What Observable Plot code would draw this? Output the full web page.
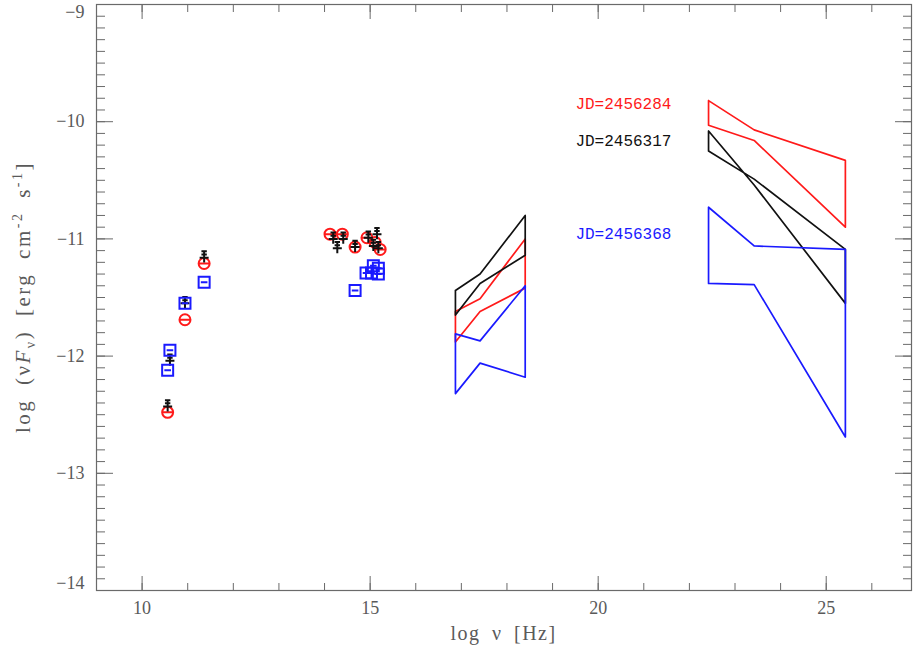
<!DOCTYPE html>
<html>
<head>
<meta charset="utf-8">
<script src="https://cdn.jsdelivr.net/npm/d3@7"></script>
<script src="https://cdn.jsdelivr.net/npm/@observablehq/plot@0.6"></script>
<style>
  html, body { margin: 0; padding: 0; background: #fff; }
  #chart svg { display: block; }
</style>
</head>
<body>
<div id="chart"></div>
<script>
// Observation epochs and their colours
const epochs = ["JD=2456284", "JD=2456317", "JD=2456368"];
const epochColors = ["#ff1a1a", "#111111", "#1a1aff"];

// Radio–optical photometry (log ν [Hz], log νFν)
const redNu   = [10.56, 10.94, 11.36, 14.12, 14.39, 14.67, 14.93, 15.11, 15.22];
const redF    = [-12.48, -11.69, -11.21, -10.96, -10.96, -11.07, -10.99, -11.03, -11.09];
const blackNu = [10.56, 10.61, 10.94, 11.36, 14.19, 14.28, 14.41, 14.67, 14.96, 15.07, 15.15, 15.18];
const blackF  = [-12.43, -12.04, -11.55, -11.16, -11.00, -11.08, -11.00, -11.07, -10.99, -11.06, -10.96, -11.08];
const blueNu  = [10.56, 10.61, 10.94, 11.36, 14.67, 14.91, 15.03, 15.07, 15.18, 15.18];
const blueF   = [-12.12, -11.95, -11.55, -11.37, -11.44, -11.29, -11.29, -11.23, -11.25, -11.30];

// X-ray bow-ties: nodes in log ν, two bounding lines per epoch
const xrayNu     = [16.87, 17.41, 18.40];
const xrayRedA   = [-11.62, -11.51, -11.00];
const xrayRedB   = [-11.88, -11.62, -11.42];
const xrayBlackA = [-11.44, -11.30, -10.80];
const xrayBlackB = [-11.65, -11.38, -11.14];
const xrayBlueA  = [-11.81, -11.87, -11.40];
const xrayBlueB  = [-12.32, -12.06, -12.18];

// Gamma-ray bow-ties
const gammaNu     = [22.42, 23.42, 25.42];
const gammaRedA   = [-9.82, -10.07, -10.33];
const gammaRedB   = [-10.03, -10.16, -10.90];
const gammaBlackA = [-10.08, -10.54, -11.55];
const gammaBlackB = [-10.25, -10.49, -11.09];
const gammaBlueA  = [-10.73, -11.06, -11.09];
const gammaBlueB  = [-11.38, -11.39, -12.69];

// Epoch label anchors
const labelNu = [19.5, 19.5, 19.5];
const labelF  = [-9.85, -10.16, -10.96];

// Axis ticks
const xMajor = [10, 15, 20, 25];
const xMinor = d3.range(9, 27, 1);
const yMajor = [-14, -13, -12, -11, -10, -9];
const yInner = [-13, -12, -11, -10];
const yMinor = d3.range(-140, -89, 1).map(v => v / 10);

const axisColor = "#6a6a6a";
const textColor = "#5a5a5a";
const serif = "'Liberation Serif', 'DejaVu Serif', serif";

const points = (nu, f) => nu.map((x, i) => ({x, y: f[i]}));

// closed outline: line A forward, line B backward
const bowtie = (nu, a, b) => [
  ...nu.map((x, i) => ({x, y: a[i]})),
  ...nu.map((x, i) => ({x, y: b[i]})).reverse(),
  {x: nu[0], y: a[0]}
];

// Plot symbols: circle with bar, square with bar, plus with error bar
const ringBar = {
  draw(c, size) {
    const r = Math.sqrt(size / Math.PI);
    c.moveTo(r, 0); c.arc(0, 0, r, 0, 2 * Math.PI);
    c.moveTo(-r, 0); c.lineTo(r, 0);
  }
};
const squareBar = {
  draw(c, size) {
    const h = Math.sqrt(size / Math.PI);
    c.moveTo(-h, -h); c.lineTo(h, -h); c.lineTo(h, h); c.lineTo(-h, h); c.closePath();
    c.moveTo(-h * 0.6, 0); c.lineTo(h * 0.6, 0);
  }
};
const plusErr = {
  draw(c, size) {
    const r = Math.sqrt(size / Math.PI);
    c.moveTo(-r, 0); c.lineTo(r, 0);
    c.moveTo(0, -r * 1.4); c.lineTo(0, r * 1.1);
    c.moveTo(-r * 0.6, -r * 1.4); c.lineTo(r * 0.6, -r * 1.4);
    c.moveTo(-r * 0.6, -r * 0.7); c.lineTo(r * 0.6, -r * 0.7);
  }
};

const bowties = [
  [bowtie(xrayNu, xrayRedA, xrayRedB), epochColors[0]],
  [bowtie(xrayNu, xrayBlackA, xrayBlackB), epochColors[1]],
  [bowtie(xrayNu, xrayBlueA, xrayBlueB), epochColors[2]],
  [bowtie(gammaNu, gammaRedA, gammaRedB), epochColors[0]],
  [bowtie(gammaNu, gammaBlackA, gammaBlackB), epochColors[1]],
  [bowtie(gammaNu, gammaBlueA, gammaBlueB), epochColors[2]]
];

const labels = epochs.map((t, i) => ({t, x: labelNu[i], y: labelF[i], c: epochColors[i]}));

const fmt = d => (d < 0 ? "\u2212" + (-d) : String(d));

const plot = Plot.plot({
  width: 913,
  height: 657,
  marginLeft: 96,
  marginRight: 2,
  marginTop: 4,
  marginBottom: 67,
  x: {domain: [9, 26.87]},
  y: {domain: [-14, -9]},
  style: {fontFamily: serif, fontSize: "18px", color: textColor, background: "#fff"},
  marks: [
    Plot.frame({stroke: axisColor, strokeWidth: 1.2}),
    // inward ticks on all four sides
    Plot.axisX(xMinor, {anchor: "bottom", tickSize: 7, dy: -7, text: null, label: null, stroke: axisColor}),
    Plot.axisX(xMajor, {anchor: "bottom", tickSize: 14, dy: -14, text: null, label: null, stroke: axisColor}),
    Plot.axisX(xMinor, {anchor: "top", tickSize: 7, dy: 7, text: null, label: null, stroke: axisColor}),
    Plot.axisX(xMajor, {anchor: "top", tickSize: 14, dy: 14, text: null, label: null, stroke: axisColor}),
    Plot.axisY(yMinor, {anchor: "left", tickSize: 9, dx: 9, text: null, label: null, stroke: axisColor}),
    Plot.axisY(yMajor, {anchor: "left", tickSize: 17, dx: 17, text: null, label: null, stroke: axisColor}),
    Plot.axisY(yMinor, {anchor: "right", tickSize: 9, dx: -9, text: null, label: null, stroke: axisColor}),
    Plot.axisY(yMajor, {anchor: "right", tickSize: 17, dx: -17, text: null, label: null, stroke: axisColor}),
    // tick labels (end labels nudged inside the frame height)
    Plot.axisX(xMajor, {anchor: "bottom", tickSize: 0, tickPadding: 11, label: null, tickFormat: fmt, fill: textColor}),
    Plot.axisY(yInner, {anchor: "left", tickSize: 0, tickPadding: 12, label: null, tickFormat: fmt, fill: textColor}),
    Plot.axisY([-9], {anchor: "left", tickSize: 0, tickPadding: 12, label: null, tickFormat: fmt, fill: textColor, dy: 8}),
    Plot.axisY([-14], {anchor: "left", tickSize: 0, tickPadding: 12, label: null, tickFormat: fmt, fill: textColor, dy: -7}),
    // bow-ties
    ...bowties.map(([d, c]) => Plot.line(d, {x: "x", y: "y", stroke: c, strokeWidth: 1.7, curve: "linear"})),
    // photometry
    Plot.dot(points(redNu, redF), {x: "x", y: "y", r: 5.5, symbol: ringBar, stroke: epochColors[0], strokeWidth: 2, fill: "none"}),
    Plot.dot(points(blackNu, blackF), {x: "x", y: "y", r: 4.5, symbol: plusErr, stroke: epochColors[1], strokeWidth: 2, fill: "none"}),
    Plot.dot(points(blueNu, blueF), {x: "x", y: "y", r: 5.5, symbol: squareBar, stroke: epochColors[2], strokeWidth: 2, fill: "none"}),
    // epoch labels
    Plot.text(labels, {x: "x", y: "y", text: "t", fill: "c", textAnchor: "start", lineAnchor: "middle",
      fontFamily: "'Liberation Mono', 'DejaVu Sans Mono', monospace", fontSize: 16, letterSpacing: "2px"})
  ]
});

document.getElementById("chart").appendChild(plot);

// axis titles
const svg = d3.select(plot);
const [x0, x1] = plot.scale("x").range;
svg.append("text")
  .attr("x", (x0 + x1) / 2).attr("y", 640)
  .attr("text-anchor", "middle")
  .attr("fill", textColor)
  .style("font-family", serif)
  .style("font-size", "20px")
  .style("letter-spacing", "1.5px")
  .style("word-spacing", "5px")
  .text("log \u03BD [Hz]");

const yt = svg.append("text")
  .attr("transform", "translate(30,297) rotate(-90)")
  .attr("text-anchor", "middle")
  .attr("fill", textColor)
  .style("font-family", serif)
  .style("font-size", "21px")
  .style("letter-spacing", "2.5px")
  .style("word-spacing", "6px");
yt.append("tspan").text("log (\u03BD");
yt.append("tspan").style("font-style", "italic").text("F");
yt.append("tspan").attr("dy", 5).style("font-size", "14px").text("\u03BD");
yt.append("tspan").attr("dy", -5).text(") [erg cm");
yt.append("tspan").attr("dy", -8).style("font-size", "14px").text("-2");
yt.append("tspan").attr("dy", 8).text(" s");
yt.append("tspan").attr("dy", -8).style("font-size", "14px").text("-1");
yt.append("tspan").attr("dy", 8).text("]");
</script>
</body>
</html>
